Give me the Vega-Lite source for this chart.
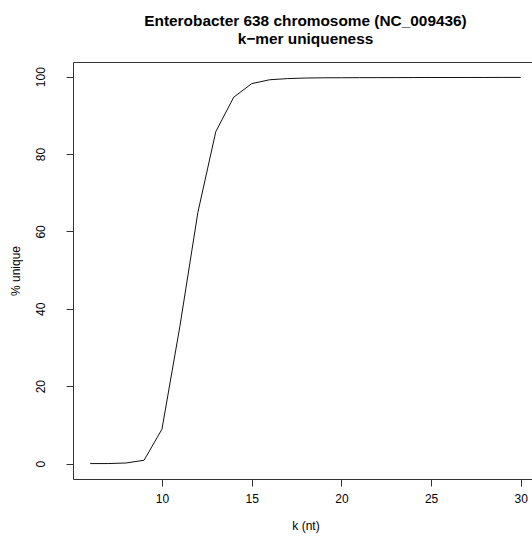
{
  "$schema": "https://vega.github.io/schema/vega-lite/v6.json",
  "autosize": "none",
  "width": 465,
  "height": 417,
  "padding": {"left": 73, "top": 62, "right": 0, "bottom": 63},
  "background": "white",
  "title": {
    "text": ["Enterobacter 638 chromosome (NC_009436)", "k\u2212mer uniqueness"],
    "font": "Liberation Sans",
    "fontSize": 15.4,
    "fontWeight": "bold",
    "color": "#000",
    "lineHeight": 18,
    "offset": 15,
    "anchor": "middle",
    "frame": "group"
  },
  "config": {
    "view": {"stroke": "#333", "strokeWidth": 1},
    "axis": {
      "labelFont": "Liberation Sans",
      "labelFontSize": 12,
      "labelColor": "#000",
      "titleFont": "Liberation Sans",
      "titleFontSize": 12,
      "titleFontWeight": "normal",
      "titleColor": "#000",
      "domain": false,
      "grid": false,
      "tickColor": "#333",
      "tickSize": 7,
      "tickWidth": 1
    }
  },
  "data": {
    "values": [
      {"k": 6, "pct": 0},
      {"k": 7, "pct": 0},
      {"k": 8, "pct": 0.15},
      {"k": 9, "pct": 0.85},
      {"k": 10, "pct": 8.9},
      {"k": 11, "pct": 35.5},
      {"k": 12, "pct": 64.9},
      {"k": 13, "pct": 85.8},
      {"k": 14, "pct": 94.7},
      {"k": 15, "pct": 98.2},
      {"k": 16, "pct": 99.2},
      {"k": 17, "pct": 99.5},
      {"k": 18, "pct": 99.65},
      {"k": 19, "pct": 99.7},
      {"k": 20, "pct": 99.72},
      {"k": 21, "pct": 99.74},
      {"k": 22, "pct": 99.75},
      {"k": 23, "pct": 99.76},
      {"k": 24, "pct": 99.77},
      {"k": 25, "pct": 99.78},
      {"k": 26, "pct": 99.78},
      {"k": 27, "pct": 99.79},
      {"k": 28, "pct": 99.79},
      {"k": 29, "pct": 99.8},
      {"k": 30, "pct": 99.8}
    ]
  },
  "mark": {"type": "line", "color": "#111", "strokeWidth": 1, "clip": true},
  "encoding": {
    "x": {
      "field": "k",
      "type": "quantitative",
      "scale": {"domain": [5.04, 30.96], "nice": false, "zero": false},
      "axis": {
        "values": [10, 15, 20, 25, 30],
        "title": "k (nt)",
        "labelPadding": 7,
        "titlePadding": 16
      }
    },
    "y": {
      "field": "pct",
      "type": "quantitative",
      "scale": {"domain": [-3.99, 103.79], "nice": false, "zero": false},
      "axis": {
        "values": [0, 20, 40, 60, 80, 100],
        "title": "% unique",
        "labelAngle": -90,
        "labelAlign": "center",
        "labelBaseline": "bottom",
        "labelPadding": 19,
        "titlePadding": 12
      }
    }
  }
}
